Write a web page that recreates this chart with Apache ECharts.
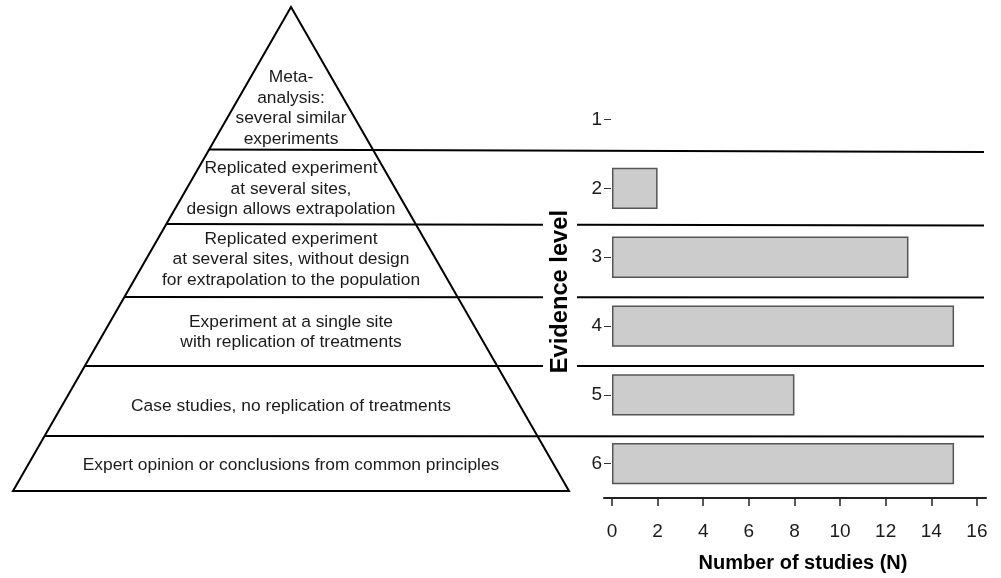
<!DOCTYPE html>
<html>
<head>
<meta charset="utf-8">
<script src="https://cdn.jsdelivr.net/npm/echarts@6/dist/echarts.min.js"></script>
<style>
html,body{margin:0;padding:0;background:#fff;}
#c{width:1001px;height:578px;}
</style>
</head>
<body>
<div id="c"></div>
<script>
const levels = ['1', '2', '3', '4', '5', '6'];
const studies = [0, 2, 13, 15, 8, 15];
const xTicks = [0, 2, 4, 6, 8, 10, 12, 14, 16];
const tierTexts = [
  'Meta-\nanalysis:\nseveral similar\nexperiments',
  'Replicated experiment\nat several sites,\ndesign allows extrapolation',
  'Replicated experiment\nat several sites, without design\nfor extrapolation to the population',
  'Experiment at a single site\nwith replication of treatments',
  'Case studies, no replication of treatments',
  'Expert opinion or conclusions from common principles'
];
const xName = 'Number of studies (N)';
const yName = 'Evidence level';

// pyramid geometry (decorative, pixels)
const apex = [291, 7], baseL = [13, 491], baseR = [569, 491];
const sepLines = [[149.5, 152], [224, 225.5], [297, 297.5], [366, 366], [436, 436.5]];
const tierCenters = [108, 189, 259.5, 332, 406, 465.5];
const lineEndX = 984;
const gapX = [543, 577];
const FONT = '"Liberation Sans", Arial, Helvetica, sans-serif';

function leftX(y) { return apex[0] - (y - apex[1]) * (apex[0] - baseL[0]) / (baseL[1] - apex[1]); }

const graphics = [];
graphics.push({
  type: 'polygon', z: 10,
  shape: { points: [apex, baseR, baseL] },
  style: { fill: 'none', stroke: '#000', lineWidth: 2 }
});
sepLines.forEach(function (l) {
  const x0 = leftX(l[0]);
  const yAt = function (x) { return l[0] + (l[1] - l[0]) * (x - x0) / (lineEndX - x0); };
  const crosses = l[0] > 205 && l[0] < 375;
  if (crosses) {
    graphics.push({ type: 'line', z: 10, shape: { x1: x0, y1: l[0], x2: gapX[0], y2: yAt(gapX[0]) }, style: { stroke: '#000', lineWidth: 2 } });
    graphics.push({ type: 'line', z: 10, shape: { x1: gapX[1], y1: yAt(gapX[1]), x2: lineEndX, y2: l[1] }, style: { stroke: '#000', lineWidth: 2 } });
  } else {
    graphics.push({ type: 'line', z: 10, shape: { x1: x0, y1: l[0], x2: lineEndX, y2: l[1] }, style: { stroke: '#000', lineWidth: 2 } });
  }
});
tierTexts.forEach(function (t, i) {
  graphics.push({
    type: 'text', z: 11,
    style: {
      text: t, x: apex[0], y: tierCenters[i],
      align: 'center', verticalAlign: 'middle',
      fontSize: 17.4, lineHeight: 20.5, fontFamily: FONT, fill: '#1a1a1a'
    }
  });
});

const chart = echarts.init(document.getElementById('c'));
chart.setOption({
  backgroundColor: '#fff',
  animation: false,
  grid: { left: 604, right: 15, top: 85.3, bottom: 70.5, containLabel: false },
  xAxis: {
    type: 'value', min: -0.35, max: 16.4,
    name: xName, nameLocation: 'middle', nameGap: 55,
    nameTextStyle: { fontSize: 20, fontWeight: 'bold', fontFamily: FONT, color: '#000', padding: [0, 0, 0, 16] },
    axisLine: { show: true, onZero: false, lineStyle: { color: '#222', width: 2 } },
    axisTick: { show: true, length: 8, customValues: xTicks, lineStyle: { color: '#222', width: 1.5 } },
    axisLabel: { customValues: xTicks, fontSize: 19, fontFamily: FONT, color: '#1a1a1a', margin: 24 },
    splitLine: { show: false }
  },
  yAxis: {
    type: 'category', data: levels, inverse: true,
    name: yName, nameLocation: 'middle', nameGap: 32, nameRotate: 90,
    nameTextStyle: { fontSize: 23.7, fontWeight: 'bold', fontFamily: FONT, color: '#000' },
    axisLine: { show: false, onZero: false },
    axisTick: { show: true, inside: true, alignWithLabel: true, length: 7, lineStyle: { color: '#333', width: 1 } },
    axisLabel: { fontSize: 19, fontFamily: FONT, color: '#1a1a1a', margin: 2, padding: [5, 0, 0, 0] }
  },
  series: [{
    type: 'bar',
    data: studies.map(function (v) { return v === 0 ? '-' : v; }),
    barWidth: '60%',
    itemStyle: { color: '#cccccc', borderColor: '#555', borderWidth: 1.5 }
  }],
  graphic: graphics
});
</script>
</body>
</html>
